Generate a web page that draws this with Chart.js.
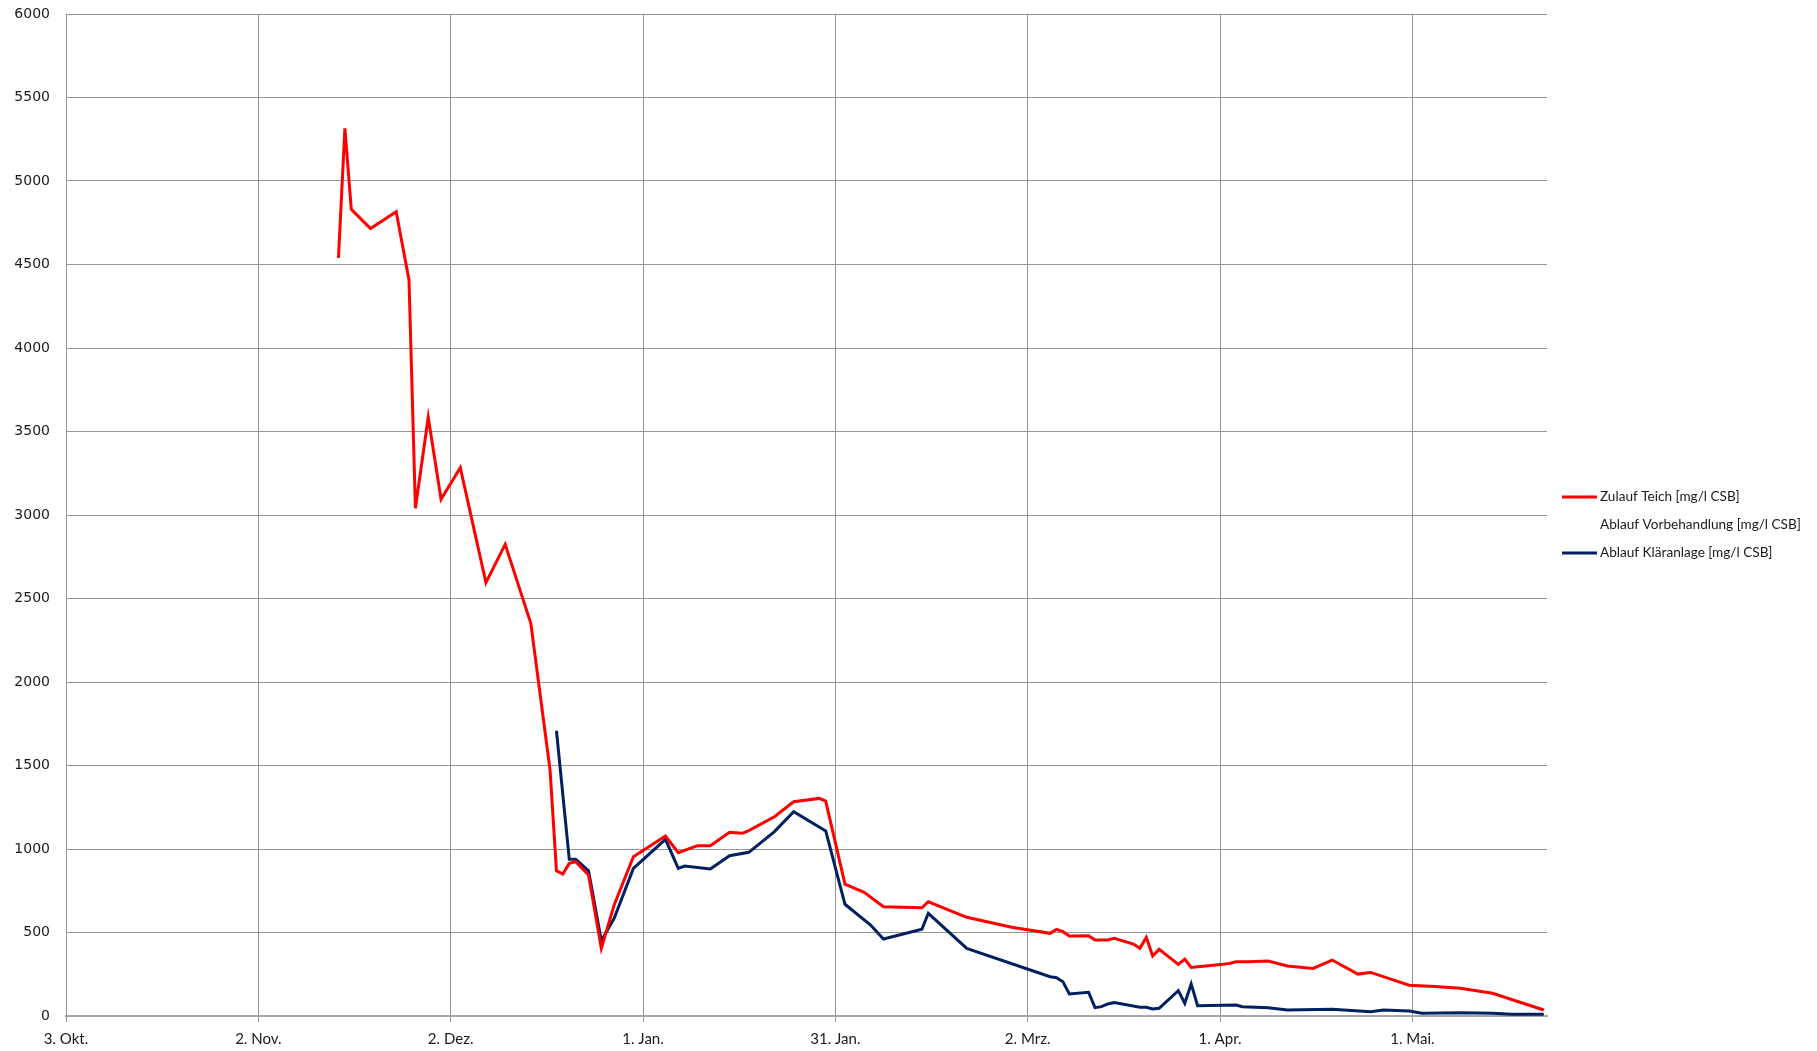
<!DOCTYPE html>
<html>
<head>
<meta charset="utf-8">
<script src="https://cdn.jsdelivr.net/npm/chart.js@4/dist/chart.umd.min.js"></script>
<style>
  html, body { margin: 0; padding: 0; background: #fff; }
  #wrap { width: 1817px; height: 1051px; }
</style>
</head>
<body>
<div id="wrap"><canvas id="csbChart" width="1817" height="1051"></canvas></div>
<script>
// Tage ab 3. Okt.
const xTickLabels = ["3. Okt.", "2. Nov.", "2. Dez.", "1. Jan.", "31. Jan.", "2. Mrz.", "1. Apr.", "1. Mai."];

const zulaufDays = [42.5, 43.5, 44.5, 47.5, 51.5, 53.5, 54.5, 56.5, 58.5, 61.5, 65.5, 68.5, 72.5, 75.5, 76.5, 77.5, 78.5, 79.5, 81.5, 83.5,
  85.5, 88.5, 93.5, 95.5, 98.5, 100.5, 103.5, 105.5, 106.5, 110.5, 113.5, 117.5, 118.5, 121.5, 124.5, 127.5, 133.5, 134.5, 140.5, 147.5,
  153.5, 154.5, 155.5, 156.5, 159.5, 160.5, 162.5, 163.5, 166.5, 167.5, 168.5, 169.5, 170.5, 173.5, 174.5, 175.5, 180.5, 181.5, 182.5, 184.5,
  187.5, 190.5, 194.5, 197.5, 201.5, 203.5, 209.5, 213.5, 217.5, 222.5, 230.5];
const zulaufWerte = [4540, 5315, 4830, 4715, 4816, 4407, 3040, 3585, 3094, 3283, 2595, 2824, 2351, 1473, 870, 850, 914, 924, 844, 405,
  665, 954, 1078, 978, 1020, 1020, 1100, 1094, 1110, 1193, 1283, 1303, 1287, 790, 741, 654, 648, 684, 591, 531,
  495, 519, 505, 479, 481, 455, 455, 465, 431, 405, 471, 359, 399, 309, 341, 291, 310, 315, 325, 325,
  329, 299, 285, 335, 251, 261, 184, 176, 166, 136, 36];

// Ablauf Vorbehandlung: keine Werte im Diagramm
const vorbehandlungDays = [];
const vorbehandlungWerte = [];

const klaerDays = [76.5, 78.5, 79.5, 81.5, 83.5, 85.5, 88.5, 93.5, 95.5, 96.5, 100.5, 103.5, 106.5, 110.5, 113.5, 118.5, 121.5, 125.5, 127.5, 133.5,
  134.5, 140.5, 153.5, 154.5, 155.5, 156.5, 159.5, 160.5, 161.5, 162.5, 163.5, 167.5, 168.5, 169.5, 170.5, 173.5, 174.5, 175.5, 176.5, 182.5,
  183.5, 187.5, 190.5, 197.5, 203.5, 205.5, 209.5, 211.5, 217.5, 222.5, 225.5, 230.5];
const klaerWerte = [1708, 938, 938, 870, 451, 585, 884, 1058, 884, 898, 880, 960, 980, 1104, 1223, 1108, 669, 545, 461, 519,
  615, 405, 235, 229, 205, 132, 142, 50, 56, 72, 80, 52, 52, 42, 46, 152, 76, 192, 62, 66,
  56, 50, 36, 40, 26, 36, 30, 16, 20, 16, 10, 10];

const seriesLabels = ["Zulauf Teich [mg/l CSB]", "Ablauf Vorbehandlung [mg/l CSB]", "Ablauf Kläranlage [mg/l CSB]"];

function toPoints(days, values) {
  return days.map((d, i) => ({ x: d, y: values[i] }));
}

const gridGray = "#959595";

// eigene Legende rechts neben dem Diagramm
const sideLegend = {
  id: "sideLegend",
  afterDraw(chart) {
    const ctx = chart.ctx;
    const x0 = 1562, y0 = 497, step = 28;
    ctx.save();
    ctx.font = "13.6px Lato";
    ctx.fillStyle = "#1a1a1a";
    ctx.textBaseline = "middle";
    chart.data.datasets.forEach((ds, i) => {
      const y = y0 + i * step;
      if (ds.data.length) {
        ctx.strokeStyle = ds.borderColor;
        ctx.lineWidth = 3;
        ctx.beginPath();
        ctx.moveTo(x0, y);
        ctx.lineTo(x0 + 35, y);
        ctx.stroke();
      }
      ctx.fillText(ds.label, x0 + 38, y);
    });
    ctx.restore();
  }
};

new Chart(document.getElementById("csbChart"), {
  type: "line",
  data: {
    datasets: [
      { label: seriesLabels[0], data: toPoints(zulaufDays, zulaufWerte), borderColor: "#ff0000", borderWidth: 3 },
      { label: seriesLabels[1], data: toPoints(vorbehandlungDays, vorbehandlungWerte), borderColor: "#7f7f7f", borderWidth: 3 },
      { label: seriesLabels[2], data: toPoints(klaerDays, klaerWerte), borderColor: "#002060", borderWidth: 3 }
    ]
  },
  options: {
    responsive: false,
    animation: false,
    layout: { padding: { top: 14, right: 270, left: 0, bottom: 0 } },
    elements: { point: { radius: 0 }, line: { tension: 0, borderJoinStyle: "miter" } },
    plugins: { legend: { display: false }, tooltip: { enabled: false } },
    scales: {
      x: {
        type: "linear",
        min: 0,
        max: 231,
        afterBuildTicks(scale) {
          scale.ticks = xTickLabels.map((l, i) => ({ value: i * 30 }));
        },
        afterFit(scale) { scale.height = 35; },
        grid: { color: gridGray, lineWidth: 1, tickLength: 6, tickColor: gridGray },
        border: { color: "#a8a8a8", width: 2 },
        ticks: {
          padding: 8,
          maxRotation: 0,
          autoSkip: false,
          color: "#1a1a1a",
          font: { family: "Lato", size: 15 },
          callback: (v) => xTickLabels[Math.round(v / 30)]
        }
      },
      y: {
        min: 0,
        max: 6000,
        afterFit(scale) { scale.width = 66; scale.paddingTop = 0; },
        grid: { color: gridGray, lineWidth: 1, drawTicks: false },
        border: { color: gridGray },
        ticks: {
          stepSize: 500,
          padding: 16,
          color: "#1a1a1a",
          font: { family: "DejaVu Sans", size: 14 },
          callback: (v) => String(v)
        }
      }
    }
  },
  plugins: [sideLegend]
});
</script>
</body>
</html>
